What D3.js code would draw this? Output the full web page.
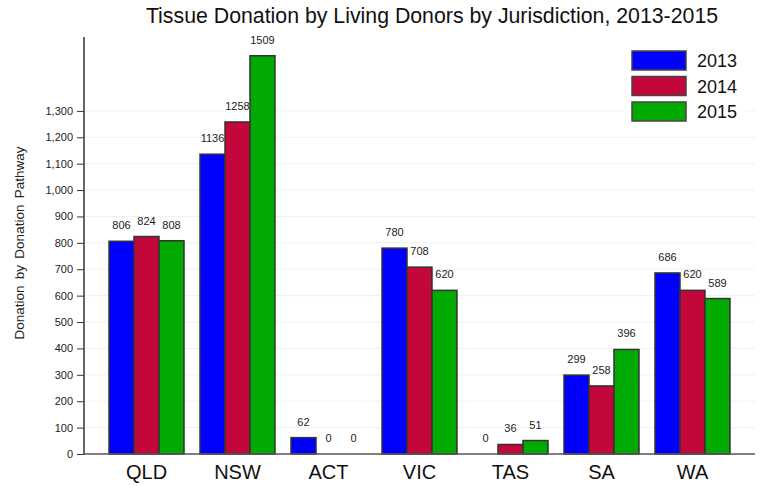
<!DOCTYPE html>
<html>
<head>
<meta charset="utf-8">
<script src="https://cdn.jsdelivr.net/npm/d3@7"></script>
<style>
  body { margin: 0; background: #fff; }
  text { font-family: "Liberation Sans", Arial, sans-serif; }
</style>
</head>
<body>
<svg id="chart" width="763" height="486"></svg>
<script>
// chart data
const jurisdictions = ['QLD', 'NSW', 'ACT', 'VIC', 'TAS', 'SA', 'WA'];
const years = ['2013', '2014', '2015'];
const values2013 = [806, 1136, 62, 780, 0, 299, 686];
const values2014 = [824, 1258, 0, 708, 36, 258, 620];
const values2015 = [808, 1509, 0, 620, 51, 396, 589];
const yTicks = [0, 100, 200, 300, 400, 500, 600, 700, 800, 900, 1000, 1100, 1200, 1300];
const colors = ['#0000ff', '#c3073a', '#00aa00'];

const seriesValues = [values2013, values2014, values2015];

const svg = d3.select('#chart');
const plotLeft = 84, plotRight = 755, plotTop = 37, plotBottom = 454;

const x = d3.scaleBand()
    .domain(jurisdictions)
    .range([plotLeft, plotRight])
    .paddingInner(0.176)
    .paddingOuter(0.275);

const xSub = d3.scaleBand()
    .domain(years)
    .range([0, x.bandwidth()]);

const y = d3.scaleLinear()
    .domain([0, 1580])
    .range([plotBottom, plotTop]);

// gridlines
svg.append('g')
    .selectAll('line')
    .data(yTicks.slice(1))
    .enter()
    .append('line')
    .attr('x1', plotLeft)
    .attr('x2', plotRight)
    .attr('y1', d => y(d))
    .attr('y2', d => y(d))
    .attr('stroke', '#edf2f2')
    .attr('stroke-width', 1);

// bars
const groups = svg.append('g')
    .selectAll('g')
    .data(jurisdictions)
    .enter()
    .append('g')
    .attr('transform', d => `translate(${x(d)},0)`);

groups.each(function(j, i) {
    const g = d3.select(this);
    years.forEach((yr, k) => {
        const v = seriesValues[k][i];
        if (v > 0) {
            g.append('rect')
                .attr('x', xSub(yr))
                .attr('y', y(v))
                .attr('width', xSub.bandwidth())
                .attr('height', y(0) - y(v))
                .attr('fill', colors[k])
                .attr('stroke', '#333')
                .attr('stroke-width', 1.5);
        }
        g.append('text')
            .attr('x', xSub(yr) + xSub.bandwidth() / 2)
            .attr('y', y(v) - 12)
            .attr('text-anchor', 'middle')
            .attr('font-size', 11)
            .attr('fill', '#222')
            .text(v);
    });
});

// y axis
const yAxis = svg.append('g')
    .attr('transform', `translate(${plotLeft},0)`)
    .call(d3.axisLeft(y).tickValues(yTicks).tickSize(7).tickPadding(4).tickFormat(d3.format(',')));
yAxis.select('.domain').remove();
yAxis.selectAll('.tick line').attr('stroke', '#333');
yAxis.selectAll('.tick text').attr('font-size', 11).attr('fill', '#222')
    .style('font-family', '"Liberation Sans", Arial, sans-serif');
svg.append('line')
    .attr('x1', plotLeft).attr('x2', plotLeft)
    .attr('y1', plotTop).attr('y2', plotBottom)
    .attr('stroke', '#333').attr('stroke-width', 1.5);

// x axis
const xAxis = svg.append('g')
    .attr('transform', `translate(0,${plotBottom})`)
    .call(d3.axisBottom(x).tickSize(0).tickPadding(11));
xAxis.select('.domain').remove();
xAxis.selectAll('.tick text').attr('font-size', 20).attr('fill', '#111')
    .style('font-family', '"Liberation Sans", Arial, sans-serif');
svg.append('line')
    .attr('x1', plotLeft).attr('x2', plotRight)
    .attr('y1', plotBottom).attr('y2', plotBottom)
    .attr('stroke', '#555').attr('stroke-width', 1.5);

// axis title
svg.append('text')
    .attr('transform', 'translate(24,243) rotate(-90)')
    .attr('text-anchor', 'middle')
    .attr('font-size', 13.5)
    .attr('fill', '#222')
    .attr('word-spacing', 2.5)
    .text('Donation by Donation Pathway');

// chart title
svg.append('text')
    .attr('x', 432)
    .attr('y', 23)
    .attr('text-anchor', 'middle')
    .attr('font-size', 21.3)
    .attr('fill', '#111')
    .text('Tissue Donation by Living Donors by Jurisdiction, 2013-2015');

// legend
const legend = svg.append('g').attr('transform', 'translate(625,45)');
legend.append('rect')
    .attr('width', 120).attr('height', 82)
    .attr('fill', '#fff');
years.forEach((yr, k) => {
    legend.append('rect')
        .attr('x', 7).attr('y', 6 + k * 25.5)
        .attr('width', 54).attr('height', 19)
        .attr('fill', colors[k])
        .attr('stroke', '#444').attr('stroke-width', 1.5);
    legend.append('text')
        .attr('x', 72).attr('y', 22 + k * 25.5)
        .attr('font-size', 18)
        .attr('fill', '#111')
        .text(yr);
});
</script>
</body>
</html>
